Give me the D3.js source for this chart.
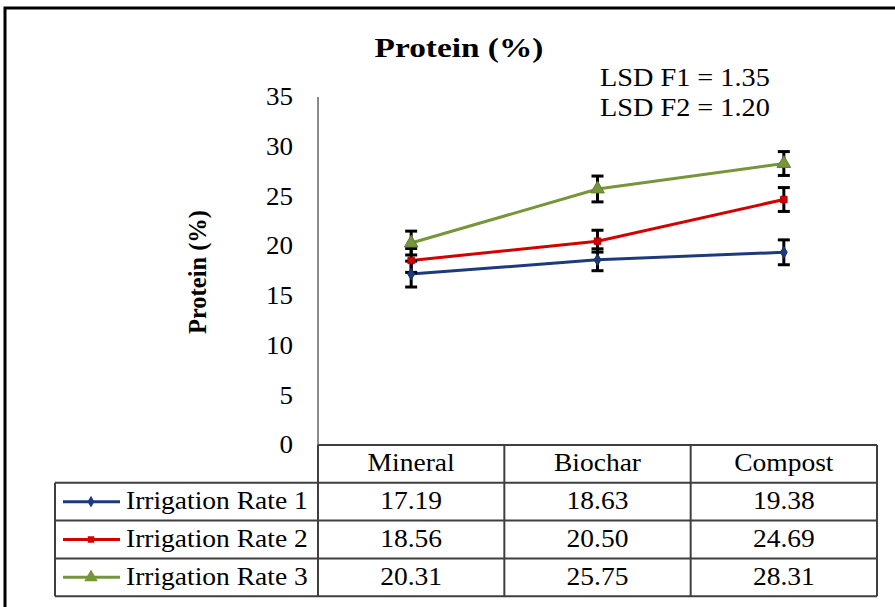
<!DOCTYPE html>
<html>
<head>
<meta charset="utf-8">
<script src="https://cdn.jsdelivr.net/npm/d3@7"></script>
<style>
  body { margin: 0; background: #fff; }
  text { font-family: "Liberation Serif", "Times New Roman", serif; fill: #000; }
</style>
</head>
<body>
<div id="graph"></div>
<script>
// Data
const categories = ["Mineral", "Biochar", "Compost"];
const seriesNames = ["Irrigation Rate 1", "Irrigation Rate 2", "Irrigation Rate 3"];
const rate1 = [17.19, 18.63, 19.38];
const rate2 = [18.56, 20.50, 24.69];
const rate3 = [20.31, 25.75, 28.31];
const err1 = [1.3, 1.1, 1.25];
const err2 = [1.2, 1.1, 1.2];
const err3 = [1.2, 1.3, 1.2];
const yTicks = [0, 5, 10, 15, 20, 25, 30, 35];
const lsdLines = ["LSD F1 = 1.35", "LSD F2 = 1.20"];

const colors = ["#1c3a7c", "#d40000", "#76963a"];
const symbols = [d3.symbolDiamond, d3.symbolSquare, d3.symbolTriangle];
const symbolSizes = [40, 42, 80];

const series = [rate1, rate2, rate3].map((vals, i) => ({
    name: seriesNames[i],
    values: vals.map((v, j) => ({ cat: categories[j], v: v, e: [err1, err2, err3][i][j] }))
}));

// Dimensions
const width = 895, height = 607;
const plotLeft = 318, plotRight = 877, plotTop = 97, plotBottom = 445;
const legendLeft = 55;
const rowH = 37.8;

// the source picture is a bit wider than plain Times, so stretch text sideways
function stretch(sel, k) {
    sel.each(function() {
        const w = this.getComputedTextLength();
        d3.select(this)
            .attr("textLength", w * k)
            .attr("lengthAdjust", "spacingAndGlyphs");
    });
}

const svg = d3.select("#graph").append("svg")
    .attr("width", width)
    .attr("height", height);

// Outer frame (top and left visible)
svg.append("path")
    .attr("d", `M5,${height} L5,8 L${width},8`)
    .attr("fill", "none")
    .attr("stroke", "#000")
    .attr("stroke-width", 3);

// Scales
const x = d3.scaleBand().domain(categories).range([plotLeft, plotRight]);
const y = d3.scaleLinear().domain([0, 35]).range([plotBottom, plotTop]);

// Y axis
svg.append("line")
    .attr("x1", plotLeft).attr("x2", plotLeft)
    .attr("y1", y(35)).attr("y2", y(0))
    .attr("stroke", "#8a8a8a").attr("stroke-width", 2);

svg.selectAll(".ytick").data(yTicks).enter().append("text")
    .attr("class", "ytick")
    .attr("x", 293)
    .attr("y", d => y(d))
    .attr("dy", "0.33em")
    .attr("text-anchor", "end")
    .attr("font-size", 25)
    .text(d => d)
    .call(stretch, 1.08);

// Title
svg.append("text")
    .attr("x", 459).attr("y", 57)
    .attr("text-anchor", "middle")
    .attr("font-size", 28)
    .attr("font-weight", "bold")
    .text("Protein (%)")
    .call(stretch, 1.19);

// LSD annotation
svg.selectAll(".lsd").data(lsdLines).enter().append("text")
    .attr("class", "lsd")
    .attr("x", 600)
    .attr("y", (d, i) => 86 + i * 30)
    .attr("font-size", 25)
    .text(d => d)
    .call(stretch, 1.13);

// Y axis title
svg.append("text")
    .attr("transform", "translate(206,272) rotate(-90)")
    .attr("text-anchor", "middle")
    .attr("font-size", 24.5)
    .attr("font-weight", "bold")
    .text("Protein (%)");

// Lines
const line = d3.line()
    .x(d => x(d.cat) + x.bandwidth() / 2)
    .y(d => y(d.v));

series.forEach((s, i) => {
    svg.append("path")
        .datum(s.values)
        .attr("fill", "none")
        .attr("stroke", colors[i])
        .attr("stroke-width", 3)
        .attr("d", line);
});

// Error bars
series.forEach((s, i) => {
    const g = svg.append("g");
    s.values.forEach(d => {
        const cx = x(d.cat) + x.bandwidth() / 2;
        g.append("line")
            .attr("x1", cx).attr("x2", cx)
            .attr("y1", y(d.v + d.e)).attr("y2", y(d.v - d.e))
            .attr("stroke", "#000").attr("stroke-width", 3);
        [d.v + d.e, d.v - d.e].forEach(v => {
            g.append("line")
                .attr("x1", cx - 6).attr("x2", cx + 6)
                .attr("y1", y(v)).attr("y2", y(v))
                .attr("stroke", "#000").attr("stroke-width", 3);
        });
    });
});

// Markers
series.forEach((s, i) => {
    svg.selectAll(".m" + i).data(s.values).enter().append("path")
        .attr("transform", d => `translate(${x(d.cat) + x.bandwidth() / 2},${y(d.v)})`)
        .attr("d", d3.symbol().type(symbols[i]).size(symbolSizes[i]))
        .attr("fill", colors[i])
        .attr("stroke", d3.color(colors[i]).darker(0.5))
        .attr("stroke-width", 1);
});

// Data table
const gridColor = "#3f3f3f";
const tableBottom = plotBottom + rowH * 4;
const t = svg.append("g");

// header row
t.append("line")
    .attr("x1", plotLeft).attr("x2", plotRight)
    .attr("y1", plotBottom).attr("y2", plotBottom)
    .attr("stroke", gridColor).attr("stroke-width", 2);

// horizontal row lines for series rows
d3.range(1, 5).forEach(r => {
    t.append("line")
        .attr("x1", legendLeft).attr("x2", plotRight)
        .attr("y1", plotBottom + r * rowH).attr("y2", plotBottom + r * rowH)
        .attr("stroke", gridColor).attr("stroke-width", 2);
});

// vertical lines
categories.forEach(c => {
    t.append("line")
        .attr("x1", x(c)).attr("x2", x(c))
        .attr("y1", plotBottom).attr("y2", tableBottom)
        .attr("stroke", gridColor).attr("stroke-width", 2);
});
t.append("line")
    .attr("x1", plotRight).attr("x2", plotRight)
    .attr("y1", plotBottom).attr("y2", tableBottom)
    .attr("stroke", gridColor).attr("stroke-width", 2);
t.append("line")
    .attr("x1", legendLeft).attr("x2", legendLeft)
    .attr("y1", plotBottom + rowH).attr("y2", tableBottom)
    .attr("stroke", gridColor).attr("stroke-width", 2);

// header text
t.selectAll(".hdr").data(categories).enter().append("text")
    .attr("class", "hdr")
    .attr("x", d => x(d) + x.bandwidth() / 2)
    .attr("y", plotBottom + rowH / 2)
    .attr("dy", "0.3em")
    .attr("text-anchor", "middle")
    .attr("font-size", 25)
    .text(d => d)
    .call(stretch, 1.1);

// series rows
series.forEach((s, i) => {
    const cy = plotBottom + rowH * (i + 1) + rowH / 2;
    t.append("line")
        .attr("x1", 63).attr("x2", 120)
        .attr("y1", cy).attr("y2", cy)
        .attr("stroke", colors[i]).attr("stroke-width", 3);
    t.append("path")
        .attr("transform", `translate(91,${cy})`)
        .attr("d", d3.symbol().type(symbols[i]).size(symbolSizes[i]))
        .attr("fill", colors[i]);
    t.append("text")
        .attr("x", 126).attr("y", cy)
        .attr("dy", "0.3em")
        .attr("font-size", 25)
        .text(s.name)
        .call(stretch, 1.1);
    s.values.forEach(d => {
        t.append("text")
            .attr("x", x(d.cat) + x.bandwidth() / 2)
            .attr("y", cy)
            .attr("dy", "0.3em")
            .attr("text-anchor", "middle")
            .attr("font-size", 25)
            .text(d.v.toFixed(2))
            .call(stretch, 1.1);
    });
});
</script>
</body>
</html>
